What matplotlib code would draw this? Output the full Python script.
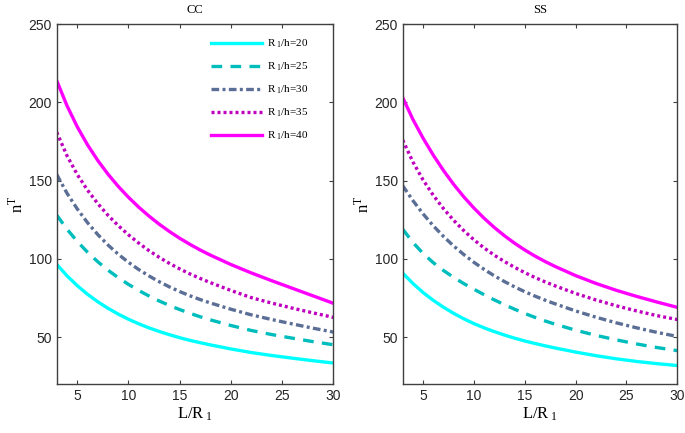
import matplotlib
matplotlib.use("Agg")
import matplotlib.pyplot as plt

plt.rcParams['mathtext.fontset'] = 'stix'
plt.rcParams['font.family'] = ['Liberation Serif', 'DejaVu Serif']

# ---- data ----
x = [3, 4, 5, 6, 7, 8, 9, 10, 11, 12, 13, 14, 15, 16, 17, 18, 20, 22, 24, 26, 28, 30]

cc_20 = [96.5, 89.2, 82.9, 77.4, 72.6, 68.4, 64.7, 61.4, 58.5, 55.9, 53.6, 51.5, 49.6, 47.9, 46.4, 45.0,
         42.4, 40.1, 38.2, 36.5, 34.9, 33.4]
cc_25 = [128, 119, 111.2, 104.3, 98.2, 92.8, 88.0, 83.7, 79.8, 76.3, 73.1, 70.2, 67.6, 65.2, 63.0, 61.0,
         57.4, 54.2, 51.6, 49.3, 47.1, 45.1]
cc_30 = [154, 142, 132, 123.2, 115.6, 108.9, 103.0, 97.8, 93.2, 89.1, 85.4, 82.1, 79.1, 76.4, 74.0, 71.8,
         67.8, 64.2, 61.2, 58.4, 55.7, 53.2]
cc_35 = [181, 166, 154, 144, 135.4, 127.9, 121.3, 115.4, 110.1, 105.3, 101.0, 97.1, 93.6, 90.4, 87.5, 84.8,
         79.8, 75.2, 71.7, 68.5, 65.5, 62.6]
cc_40 = [214, 198, 184.5, 173, 163, 154.2, 146.4, 139.4, 133.1, 127.4, 122.2, 117.5, 113.2, 109.3, 105.7, 102.4,
         96.4, 91.0, 86.0, 81.2, 76.4, 71.6]

ss_20 = [90.9, 84.3, 78.5, 73.5, 69.1, 65.2, 61.7, 58.6, 55.9, 53.5, 51.3, 49.3, 47.5, 45.9, 44.4, 43.0,
         40.4, 38.1, 36.1, 34.4, 33.0, 31.8]
ss_25 = [119, 110.5, 103.5, 97.6, 92.6, 88.2, 84.2, 80.6, 77.1, 73.8, 70.7, 67.8, 65.1, 62.6, 60.3, 58.2,
         54.4, 51.1, 48.2, 45.6, 43.3, 41.3]
ss_30 = [146.8, 137.3, 128.8, 121.2, 114.4, 108.3, 102.8, 97.8, 93.3, 89.2, 85.5, 82.1, 79.0, 76.2, 73.6, 71.2,
         66.7, 62.7, 59.1, 55.9, 53.0, 50.4]
ss_35 = [176, 162, 150.5, 140.7, 132.2, 124.7, 118.1, 112.2, 107.0, 102.4, 98.3, 94.6, 91.2, 88.1, 85.3, 82.7,
         77.9, 73.7, 70.0, 66.7, 63.7, 61.2]
ss_40 = [203.2, 189.2, 177.2, 166.4, 156.6, 147.7, 139.7, 132.5, 126.0, 120.1, 114.8, 110.0, 105.7, 101.8, 98.3, 95.1,
         89.3, 84.3, 79.9, 76.0, 72.4, 69.0]

ratios = ['20', '25', '30', '35', '40']
panel_titles = ['CC', 'SS']
xticks = [5, 10, 15, 20, 25, 30]
yticks = [50, 100, 150, 200, 250]

colors = ['#00FFFF', '#00BDBD', '#5B6E96', '#BF00BF', '#FF00FF']
styles = ['-', (0, (3.2, 2.5)), (0, (2.3, 1.0, 0.9, 1.0)), (0, (0.9, 0.9)), '-']

fig = plt.figure(figsize=(6.85, 4.33), dpi=100)
ax1 = fig.add_axes([0.0828, 0.1132, 0.4038, 0.8307])
ax2 = fig.add_axes([0.5879, 0.1132, 0.4009, 0.8307])

data = [[cc_20, cc_25, cc_30, cc_35, cc_40], [ss_20, ss_25, ss_30, ss_35, ss_40]]

for ax, title, series in zip([ax1, ax2], panel_titles, data):
    for ys, r, c, ls in zip(series, ratios, colors, styles):
        ax.plot(x, ys, color=c, linestyle=ls, linewidth=2.4,
                label=r'R$_{\mathregular{\ 1}}$/h=' + r)
    ax.set_xlim(3, 30)
    ax.set_ylim(20, 250)
    ax.set_xticks(xticks)
    ax.set_yticks(yticks)
    ax.tick_params(direction='in', length=3, width=0.8, top=True, right=True,
                   labelsize=10, colors='#404040', labelcolor='#262626')
    for lab in ax.get_xticklabels() + ax.get_yticklabels():
        lab.set_family(['Liberation Sans', 'DejaVu Sans'])
    for sp in ax.spines.values():
        sp.set_color('#404040')
        sp.set_linewidth(1.0)
    ax.set_title(title, fontsize=9, pad=8)
    ax.set_xlabel(r'L/R$_{\mathregular{\ 1}}$', fontsize=12, labelpad=2)
    ax.set_ylabel(r'n$^{\mathregular{T}}$', fontsize=12, labelpad=1)

ax1.legend(loc='upper right', frameon=False, fontsize=8, handlelength=4.6,
           labelspacing=0.95, borderaxespad=0.3, handletextpad=0.5,
           bbox_to_anchor=(0.94, 0.985))

fig.savefig('out.png', dpi=100)
